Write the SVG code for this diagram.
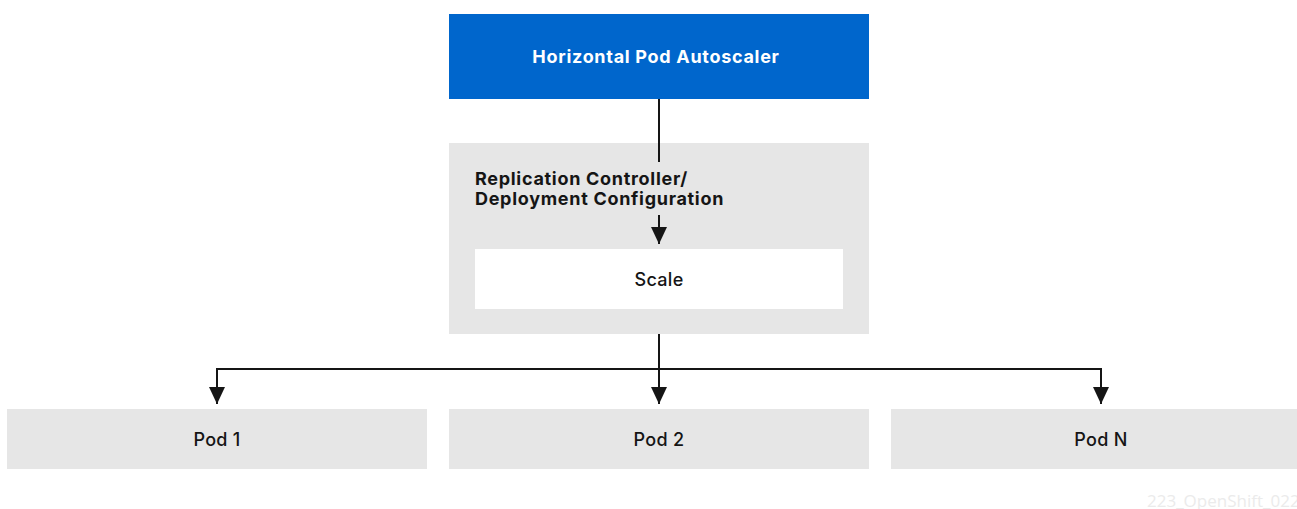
<svg xmlns="http://www.w3.org/2000/svg" width="1297" height="509" viewBox="0 0 1297 509">
<defs>
<marker id="arr" markerWidth="17" markerHeight="16" refX="17" refY="8" orient="auto" markerUnits="userSpaceOnUse">
<path d="M0,0 L17,8 L0,16 Z" fill="#151515"/>
</marker>
<style>
.lbl{font-family:Inter,"Liberation Sans",Arial,sans-serif;font-size:18px;font-weight:500;fill:#151515;text-anchor:middle;letter-spacing:0.3px}
.b{font-weight:700;letter-spacing:0.7px}
.gray{fill:#e6e6e6}
.conn{stroke:#151515;stroke-width:2;fill:none}
</style>
</defs>
<rect width="1297" height="509" fill="#ffffff"/>
<g id="hpa">
<rect x="449" y="14" width="420" height="85" fill="#0066cc"/>
<text class="lbl b" x="656" y="63" style="fill:#ffffff">Horizontal Pod Autoscaler</text>
</g>
<g id="rc">
<rect class="gray" x="449" y="143" width="420" height="191"/>
<text class="lbl b" x="475" y="185" style="text-anchor:start">Replication Controller/</text>
<text class="lbl b" x="475" y="205" style="text-anchor:start">Deployment Configuration</text>
</g>
<g id="scale">
<rect x="475" y="249" width="368" height="60" fill="#ffffff"/>
<text class="lbl" x="659" y="286">Scale</text>
</g>
<g id="pod1">
<rect class="gray" x="7" y="409" width="420" height="60"/>
<text class="lbl" x="217" y="446">Pod 1</text>
</g>
<g id="pod2">
<rect class="gray" x="449" y="409" width="420" height="60"/>
<text class="lbl" x="659" y="446">Pod 2</text>
</g>
<g id="podn">
<rect class="gray" x="891" y="409" width="406" height="60"/>
<text class="lbl" x="1101" y="446">Pod N</text>
</g>
<g id="connectors">
<line class="conn" x1="659" y1="99" x2="659" y2="162"/>
<line class="conn" x1="659" y1="215" x2="659" y2="244" marker-end="url(#arr)"/>
<line class="conn" x1="659" y1="334" x2="659" y2="404" marker-end="url(#arr)"/>
<path class="conn" d="M659,369 H217 V404" marker-end="url(#arr)"/>
<path class="conn" d="M659,369 H1101 V404" marker-end="url(#arr)"/>
</g>
<text x="1147" y="507" style="font-family:'Open Sans','Liberation Sans',Arial,sans-serif;font-size:17px;fill:#ebebeb">223_OpenShift_0222</text>
</svg>
